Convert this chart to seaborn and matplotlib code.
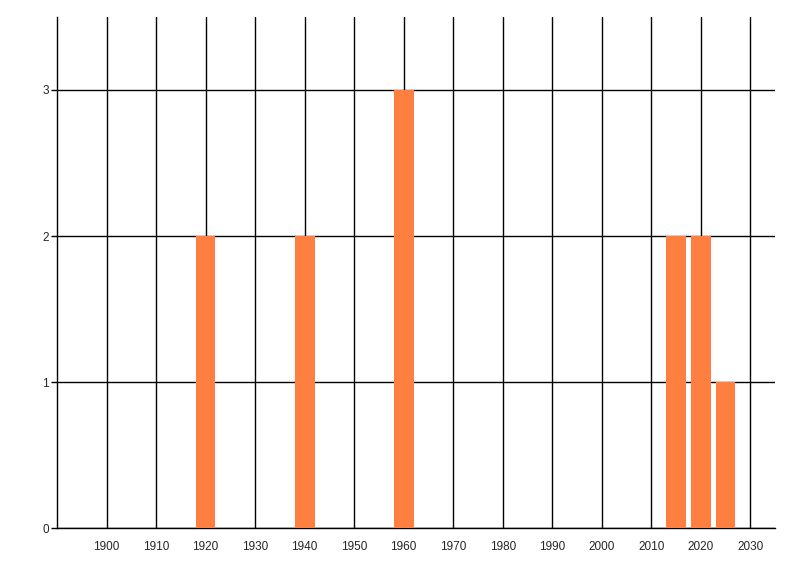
import pandas as pd
import matplotlib.pyplot as plt
import seaborn as sns

# values
years = [1920, 1940, 1960, 2015, 2020, 2025]
counts = [2, 2, 3, 2, 2, 1]
x_ticks = list(range(1900, 2031, 10))
y_ticks = [0, 1, 2, 3]

data = pd.DataFrame({'year': years, 'count': counts})

sns.set_style('white')
plt.rcParams['font.family'] = ['Liberation Sans', 'DejaVu Sans']

fig = plt.figure(figsize=(8, 5.76), dpi=100)
ax = fig.add_axes([0.0713, 0.0833, 0.8975, 0.8872])

sns.barplot(data=data, x='year', y='count', native_scale=True, width=0.8,
            color='#ff7f40', saturation=1, linewidth=0, edgecolor='none',
            ax=ax, zorder=3)

ax.set_xlim(1890, 2035)
ax.set_ylim(0, 3.5)
ax.set_xticks(x_ticks)
ax.set_yticks(y_ticks)
ax.set_xticklabels([str(t) for t in x_ticks], fontsize=8.5)
ax.set_yticklabels([str(t) for t in y_ticks], fontsize=8.5)

# black grid lines on every tick
ax.grid(True, color='black', linewidth=1, zorder=0)
ax.set_axisbelow(True)

for side in ['top', 'right']:
    ax.spines[side].set_visible(False)
for side in ['left', 'bottom']:
    ax.spines[side].set_color('black')
    ax.spines[side].set_linewidth(1)

ax.tick_params(axis='y', left=True, length=4, width=1, color='black', pad=2)
ax.tick_params(axis='x', bottom=False, pad=6)
ax.set_xlabel('')
ax.set_ylabel('')

fig.savefig('out.png', dpi=100)
